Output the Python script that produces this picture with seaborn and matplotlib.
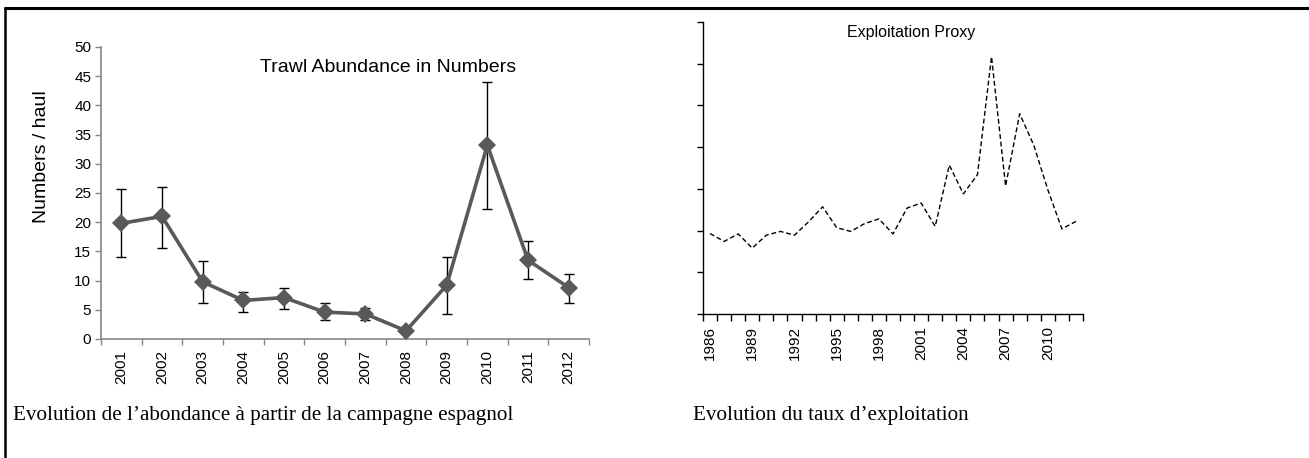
import numpy as np
import pandas as pd
import matplotlib
matplotlib.use("Agg")
import matplotlib.pyplot as plt
from matplotlib.lines import Line2D
from matplotlib.ticker import FixedLocator
import seaborn as sns

# Spanish trawl survey: mean numbers per haul with error range
survey_years = ["2001", "2002", "2003", "2004", "2005", "2006",
                "2007", "2008", "2009", "2010", "2011", "2012"]
abundance = [19.8, 21.0, 9.8, 6.6, 7.1, 4.6, 4.3, 1.4, 9.2, 33.2, 13.5, 8.8]
abundance_upper = [25.7, 26.1, 13.3, 8.1, 8.7, 6.1, 5.3, 1.4, 14.0, 44.0, 16.8, 11.2]
abundance_lower = [14.0, 15.5, 6.1, 4.6, 5.1, 3.3, 3.2, 1.4, 4.2, 22.3, 10.2, 6.1]

# Exploitation proxy (relative units), 1986-2012
proxy_years = [str(y) for y in range(1986, 2013)]
exploitation = [1.93, 1.74, 1.92, 1.58, 1.89, 1.98, 1.89, 2.21, 2.57, 2.07,
                1.98, 2.17, 2.28, 1.92, 2.54, 2.66, 2.10, 3.57, 2.88, 3.34,
                6.17, 3.07, 4.80, 4.05, 2.98, 2.04, 2.22]
proxy_label_years = proxy_years[::3]

sns.set_theme(style="white")
plt.rcParams["font.family"] = ["Liberation Sans", "DejaVu Sans"]

W, H = 1309, 458
fig = plt.figure(figsize=(W / 100, H / 100), dpi=100)
fig.patch.set_facecolor("white")


def frac_box(x0, y0, x1, y1):
    return [x0 / W, 1 - y1 / H, (x1 - x0) / W, (y1 - y0) / H]


# ---------------- left panel: trawl abundance ----------------
axl = fig.add_axes(frac_box(101, 47, 589, 339))
df_a = pd.DataFrame({"year": survey_years, "n": abundance})
df_a["pos"] = np.arange(len(df_a))

err_lo = np.array(abundance) - np.array(abundance_lower)
err_hi = np.array(abundance_upper) - np.array(abundance)
axl.errorbar(df_a["pos"], df_a["n"], yerr=[err_lo, err_hi], fmt="none",
             ecolor="black", elinewidth=1.0, capsize=3.5, capthick=1.0, zorder=2)
sns.lineplot(data=df_a, x="pos", y="n", ax=axl, color="#595959",
             linewidth=2.6, marker="D", markersize=9.5, markeredgewidth=0,
             zorder=3)

axl.set_xlim(-0.5, len(survey_years) - 0.5)
axl.set_ylim(0, 50)
axl.set_yticks(np.arange(0, 51, 5))
axl.set_xticks(df_a["pos"])
axl.set_xticklabels(survey_years, rotation=90)
axl.xaxis.set_minor_locator(FixedLocator(np.arange(-0.5, len(survey_years), 1.0)))
axl.tick_params(axis="x", which="major", length=0, pad=8, labelsize=11,
                labelcolor="black")
axl.tick_params(axis="x", which="minor", bottom=True, length=4, width=1,
                color="#868686")
axl.tick_params(axis="y", which="major", left=True, length=4, width=1,
                color="#868686", pad=3, labelsize=11, labelcolor="black")
for side in ["top", "right"]:
    axl.spines[side].set_visible(False)
for side in ["left", "bottom"]:
    axl.spines[side].set_color("#868686")
    axl.spines[side].set_linewidth(1.2)
axl.set_xlabel("")
axl.set_ylabel("")
axl.grid(False)
fig.text(41 / W, 1 - 157 / H, "Numbers / haul", rotation=90, fontsize=14,
         ha="center", va="center", color="black")
fig.text(388 / W, 1 - 68 / H, "Trawl Abundance in Numbers", fontsize=14,
         ha="center", va="center", color="black")

# ---------------- right panel: exploitation proxy ----------------
axr = fig.add_axes(frac_box(703, 22, 1083, 314))
df_e = pd.DataFrame({"year": proxy_years, "f": exploitation})
df_e["pos"] = np.arange(len(df_e))
sns.lineplot(data=df_e, x="pos", y="f", ax=axr, color="black", linewidth=1.0)
axr.lines[0].set_dashes([3.5, 2])

axr.set_xlim(-0.5, len(proxy_years) - 0.5)
axr.set_ylim(0, 7)
axr.set_yticks(np.arange(0, 8, 1))
axr.set_yticklabels([])
label_pos = [proxy_years.index(y) for y in proxy_label_years]
axr.set_xticks(label_pos)
axr.set_xticklabels(proxy_label_years, rotation=90)
axr.xaxis.set_minor_locator(FixedLocator(np.arange(-0.5, len(proxy_years), 1.0)))
axr.tick_params(axis="x", which="major", length=0, pad=9, labelsize=11,
                labelcolor="black")
axr.tick_params(axis="x", which="minor", bottom=True, length=5, width=1,
                color="black")
axr.tick_params(axis="y", which="major", left=True, length=4, width=1,
                color="black")
for side in ["top", "right"]:
    axr.spines[side].set_visible(False)
for side in ["left", "bottom"]:
    axr.spines[side].set_color("black")
    axr.spines[side].set_linewidth(1.0)
axr.set_xlabel("")
axr.set_ylabel("")
axr.grid(False)
fig.text(911 / W, 1 - 32 / H, "Exploitation Proxy", fontsize=11.5,
         ha="center", va="center", color="black")

# ---------------- captions and frame ----------------
serif = ["Liberation Serif", "DejaVu Serif"]
fig.text(13 / W, 1 - 420 / H,
         "Evolution de l\u2019abondance \u00e0 partir de la campagne espagnol",
         fontsize=15.2, family=serif, ha="left", va="baseline", color="black")
fig.text(693 / W, 1 - 420 / H, "Evolution du taux d\u2019exploitation",
         fontsize=15.2, family=serif, ha="left", va="baseline", color="black")

fig.add_artist(Line2D([5 / W, 1.0], [1 - 8 / H, 1 - 8 / H],
                      transform=fig.transFigure, color="black", linewidth=2.2))
fig.add_artist(Line2D([5 / W, 5 / W], [0.0, 1 - 8 / H],
                      transform=fig.transFigure, color="black", linewidth=1.8))

fig.savefig("out.png", dpi=100, facecolor="white")
